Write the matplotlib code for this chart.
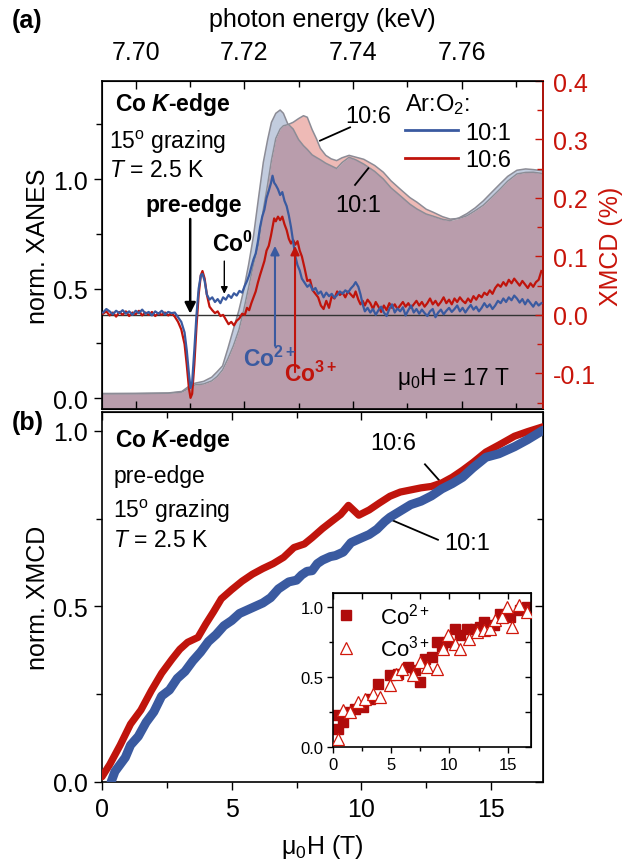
import numpy as np
import matplotlib
matplotlib.use("Agg")
import matplotlib.pyplot as plt
from matplotlib.ticker import MultipleLocator, FormatStrFormatter
from matplotlib.lines import Line2D

plt.rcParams['font.family'] = ['Liberation Sans', 'DejaVu Sans']
plt.rcParams['mathtext.fontset'] = 'custom'
plt.rcParams['mathtext.rm'] = 'Liberation Sans'
plt.rcParams['mathtext.it'] = 'Liberation Sans:italic'
plt.rcParams['mathtext.bf'] = 'Liberation Sans:bold'
try:
    plt.rcParams['mathtext.bfit'] = 'Liberation Sans:italic:bold'
except KeyError:
    pass
plt.rcParams['axes.unicode_minus'] = False

# ---------------- data: panel (a) XANES (left axis) ----------------
xanes_E = [7.6938, 7.7000, 7.7060, 7.7085, 7.7095, 7.7102, 7.7110, 7.7125, 7.7140, 7.7150,
           7.7160, 7.7170, 7.7180, 7.7190, 7.7198, 7.7208, 7.7217, 7.7226, 7.7235, 7.7243,
           7.7250, 7.7258, 7.7266, 7.7272, 7.7280, 7.7290, 7.7300, 7.7309, 7.7316, 7.7325,
           7.7333, 7.7340, 7.7350, 7.7360, 7.7370, 7.7380, 7.7393, 7.7405, 7.7420, 7.7440,
           7.7456, 7.7470, 7.7487, 7.7505, 7.7518, 7.7535, 7.7548, 7.7565, 7.7579, 7.7595,
           7.7610, 7.7625, 7.7640, 7.7655, 7.7671, 7.7685, 7.7702, 7.7718, 7.7732, 7.7750]
xanes_101 = [0.020, 0.021, 0.023, 0.030, 0.048, 0.062, 0.068, 0.076, 0.095, 0.120,
             0.147, 0.228, 0.315, 0.400, 0.483, 0.610, 0.741, 0.910, 1.076, 1.180,
             1.259, 1.300, 1.315, 1.300, 1.252, 1.228, 1.180, 1.152, 1.135, 1.110,
             1.098, 1.088, 1.072, 1.060, 1.048, 1.075, 1.099, 1.088, 1.068, 1.035,
             1.000, 0.960, 0.924, 0.885, 0.863, 0.840, 0.830, 0.816, 0.810, 0.822,
             0.842, 0.868, 0.900, 0.938, 0.978, 1.012, 1.040, 1.046, 1.043, 1.038]
xanes_106 = [0.020, 0.020, 0.022, 0.027, 0.040, 0.054, 0.060, 0.064, 0.078, 0.098,
             0.128, 0.180, 0.239, 0.310, 0.391, 0.505, 0.610, 0.700, 0.860, 0.975,
             1.085, 1.185, 1.228, 1.243, 1.248, 1.259, 1.276, 1.289, 1.282, 1.225,
             1.183, 1.140, 1.108, 1.092, 1.084, 1.097, 1.108, 1.100, 1.090, 1.062,
             1.031, 0.992, 0.954, 0.915, 0.894, 0.862, 0.848, 0.828, 0.817, 0.820,
             0.832, 0.855, 0.880, 0.915, 0.954, 0.990, 1.023, 1.030, 1.031, 1.025]

# ---------------- data: panel (a) XMCD (right axis, %) ----------------
xmcd_101 = [
    (7.6940, 0.004), (7.6946, 0.010), (7.6952, 0.006), (7.6958, 0.001), (7.6964, 0.007),
    (7.6970, 0.003), (7.6976, 0.008), (7.6982, 0.002), (7.6988, 0.006), (7.6994, 0.000),
    (7.7000, 0.007), (7.7006, 0.003), (7.7012, 0.009), (7.7018, 0.002), (7.7024, 0.005),
    (7.7030, -0.001), (7.7036, 0.006), (7.7042, 0.002), (7.7048, 0.007), (7.7054, 0.001),
    (7.7060, 0.005), (7.7066, 0.003), (7.7072, 0.004), (7.7078, -0.004), (7.7084, -0.012),
    (7.7090, -0.030), (7.7094, -0.060), (7.7098, -0.100), (7.7101, -0.125), (7.7104, -0.115),
    (7.7108, -0.060), (7.7112, 0.000), (7.7116, 0.045), (7.7120, 0.068), (7.7123, 0.070),
    (7.7127, 0.058), (7.7131, 0.035), (7.7136, 0.026), (7.7141, 0.030), (7.7146, 0.022),
    (7.7151, 0.027), (7.7156, 0.020), (7.7161, 0.030), (7.7166, 0.026), (7.7171, 0.034),
    (7.7176, 0.029), (7.7181, 0.037), (7.7186, 0.033), (7.7191, 0.041), (7.7196, 0.038),
    (7.7201, 0.050), (7.7205, 0.058), (7.7209, 0.068), (7.7213, 0.082), (7.7217, 0.095),
    (7.7221, 0.105), (7.7225, 0.125), (7.7229, 0.150), (7.7233, 0.168), (7.7237, 0.180),
    (7.7241, 0.200), (7.7245, 0.212), (7.7249, 0.225), (7.7252, 0.238), (7.7255, 0.226),
    (7.7258, 0.222), (7.7262, 0.215), (7.7266, 0.205), (7.7270, 0.210), (7.7274, 0.195),
    (7.7278, 0.186), (7.7282, 0.170), (7.7286, 0.150), (7.7290, 0.125), (7.7294, 0.100),
    (7.7298, 0.085), (7.7302, 0.076), (7.7306, 0.062), (7.7311, 0.055), (7.7316, 0.048),
    (7.7321, 0.052), (7.7326, 0.042), (7.7331, 0.046), (7.7336, 0.036), (7.7341, 0.040),
    (7.7346, 0.030), (7.7351, 0.038), (7.7356, 0.032), (7.7361, 0.036), (7.7366, 0.029),
    (7.7371, 0.034), (7.7376, 0.040), (7.7381, 0.036), (7.7386, 0.042), (7.7391, 0.038),
    (7.7396, 0.045), (7.7401, 0.050), (7.7405, 0.056), (7.7410, 0.048), (7.7414, 0.035),
    (7.7418, 0.018), (7.7422, 0.006), (7.7427, 0.012), (7.7432, 0.004), (7.7437, 0.010),
    (7.7442, 0.000), (7.7447, 0.008), (7.7452, 0.014), (7.7457, 0.004), (7.7462, -0.002),
    (7.7467, 0.010), (7.7472, 0.018), (7.7477, 0.004), (7.7482, 0.011), (7.7487, 0.006),
    (7.7492, 0.013), (7.7497, -0.001), (7.7502, 0.008), (7.7507, 0.016), (7.7512, 0.004),
    (7.7517, 0.010), (7.7522, 0.002), (7.7527, 0.009), (7.7532, 0.003), (7.7537, -0.002),
    (7.7542, 0.006), (7.7547, 0.010), (7.7552, -0.004), (7.7557, 0.004), (7.7562, 0.009),
    (7.7567, 0.001), (7.7572, 0.007), (7.7577, 0.012), (7.7582, 0.005), (7.7587, 0.010),
    (7.7592, 0.016), (7.7597, 0.006), (7.7602, 0.012), (7.7607, 0.004), (7.7612, 0.011),
    (7.7617, 0.017), (7.7622, 0.009), (7.7627, 0.014), (7.7632, 0.006), (7.7637, 0.012),
    (7.7642, 0.020), (7.7647, 0.013), (7.7652, 0.018), (7.7657, 0.010), (7.7662, 0.016),
    (7.7667, 0.024), (7.7672, 0.020), (7.7677, 0.028), (7.7682, 0.022), (7.7687, 0.030),
    (7.7692, 0.025), (7.7697, 0.033), (7.7702, 0.028), (7.7707, 0.021), (7.7712, 0.027),
    (7.7717, 0.018), (7.7722, 0.026), (7.7727, 0.020), (7.7732, 0.014), (7.7737, 0.022),
    (7.7742, 0.016), (7.7747, 0.020)]

xmcd_106 = [
    (7.6940, 0.002), (7.6946, 0.006), (7.6952, -0.001), (7.6958, 0.004), (7.6964, -0.003),
    (7.6970, 0.005), (7.6976, 0.000), (7.6982, 0.006), (7.6988, -0.002), (7.6994, 0.004),
    (7.7000, 0.001), (7.7006, 0.007), (7.7012, -0.001), (7.7018, 0.004), (7.7024, 0.000),
    (7.7030, 0.005), (7.7036, -0.002), (7.7042, 0.003), (7.7048, 0.000), (7.7054, 0.004),
    (7.7060, -0.001), (7.7066, 0.003), (7.7072, -0.003), (7.7078, -0.012), (7.7084, -0.025),
    (7.7090, -0.050), (7.7094, -0.085), (7.7098, -0.125), (7.7101, -0.142), (7.7104, -0.135),
    (7.7108, -0.085), (7.7112, -0.020), (7.7116, 0.035), (7.7120, 0.068), (7.7123, 0.075),
    (7.7127, 0.062), (7.7131, 0.035), (7.7136, 0.014), (7.7141, 0.008), (7.7146, 0.003),
    (7.7151, 0.006), (7.7156, -0.002), (7.7161, 0.000), (7.7166, -0.008), (7.7171, -0.016),
    (7.7176, -0.012), (7.7181, -0.018), (7.7186, -0.010), (7.7191, -0.006), (7.7196, 0.002),
    (7.7201, 0.000), (7.7205, 0.012), (7.7209, 0.008), (7.7213, 0.020), (7.7217, 0.030),
    (7.7221, 0.040), (7.7225, 0.055), (7.7229, 0.068), (7.7233, 0.080), (7.7237, 0.092),
    (7.7241, 0.110), (7.7245, 0.118), (7.7249, 0.135), (7.7252, 0.150), (7.7255, 0.165),
    (7.7258, 0.160), (7.7262, 0.168), (7.7266, 0.162), (7.7270, 0.168), (7.7274, 0.155),
    (7.7278, 0.145), (7.7282, 0.130), (7.7286, 0.122), (7.7290, 0.128), (7.7294, 0.120),
    (7.7298, 0.126), (7.7302, 0.110), (7.7306, 0.100), (7.7311, 0.080), (7.7316, 0.058),
    (7.7321, 0.060), (7.7326, 0.042), (7.7331, 0.036), (7.7336, 0.030), (7.7341, 0.016),
    (7.7346, 0.010), (7.7351, 0.024), (7.7356, 0.012), (7.7361, 0.032), (7.7366, 0.028),
    (7.7371, 0.040), (7.7376, 0.034), (7.7381, 0.038), (7.7386, 0.030), (7.7391, 0.040),
    (7.7396, 0.035), (7.7401, 0.030), (7.7405, 0.040), (7.7410, 0.026), (7.7414, 0.018),
    (7.7418, 0.024), (7.7422, 0.016), (7.7427, 0.026), (7.7432, 0.020), (7.7437, 0.010),
    (7.7442, 0.022), (7.7447, 0.014), (7.7452, 0.005), (7.7457, 0.016), (7.7462, 0.008),
    (7.7467, 0.020), (7.7472, 0.012), (7.7477, 0.018), (7.7482, 0.010), (7.7487, 0.016),
    (7.7492, 0.022), (7.7497, 0.014), (7.7502, 0.020), (7.7507, 0.012), (7.7512, 0.018),
    (7.7517, 0.024), (7.7522, 0.016), (7.7527, 0.022), (7.7532, 0.014), (7.7537, 0.020),
    (7.7542, 0.028), (7.7547, 0.018), (7.7552, 0.024), (7.7557, 0.016), (7.7562, 0.022),
    (7.7567, 0.030), (7.7572, 0.020), (7.7577, 0.026), (7.7582, 0.018), (7.7587, 0.028),
    (7.7592, 0.022), (7.7597, 0.030), (7.7602, 0.024), (7.7607, 0.020), (7.7612, 0.028),
    (7.7617, 0.022), (7.7622, 0.032), (7.7627, 0.026), (7.7632, 0.034), (7.7637, 0.030),
    (7.7642, 0.038), (7.7647, 0.034), (7.7652, 0.042), (7.7657, 0.036), (7.7662, 0.046),
    (7.7667, 0.052), (7.7672, 0.048), (7.7677, 0.056), (7.7682, 0.050), (7.7687, 0.060),
    (7.7692, 0.054), (7.7697, 0.062), (7.7702, 0.056), (7.7707, 0.050), (7.7712, 0.058),
    (7.7717, 0.052), (7.7722, 0.046), (7.7727, 0.054), (7.7732, 0.048), (7.7737, 0.056),
    (7.7742, 0.060), (7.7747, 0.075)]

# ---------------- data: panel (b) field dependence ----------------
field_106 = [(0.0, 0.015), (0.3, 0.05), (0.7, 0.105), (1.1, 0.165), (1.5, 0.205), (1.9, 0.26),
             (2.3, 0.31), (2.7, 0.35), (3.0, 0.378), (3.3, 0.398), (3.7, 0.412), (4.0, 0.45),
             (4.3, 0.485), (4.6, 0.522), (5.0, 0.548), (5.4, 0.572), (5.8, 0.592), (6.2, 0.608),
             (6.6, 0.622), (7.0, 0.640), (7.4, 0.668), (7.8, 0.678), (8.1, 0.696), (8.5, 0.722),
             (8.9, 0.745), (9.2, 0.762), (9.5, 0.788), (9.9, 0.760), (10.3, 0.775), (10.7, 0.795),
             (11.1, 0.814), (11.5, 0.826), (11.9, 0.832), (12.3, 0.838), (12.7, 0.842), (13.1, 0.852),
             (13.5, 0.868), (13.9, 0.888), (14.3, 0.910), (14.8, 0.940), (15.3, 0.960), (15.9, 0.985),
             (16.4, 0.998), (17.0, 1.012)]
field_101 = [(0.35, 0.0), (0.5, 0.03), (0.7, 0.05), (0.9, 0.07), (1.1, 0.105), (1.4, 0.13),
             (1.7, 0.17), (2.0, 0.20), (2.3, 0.245), (2.6, 0.262), (2.9, 0.295), (3.2, 0.315),
             (3.5, 0.345), (3.8, 0.37), (4.1, 0.40), (4.4, 0.42), (4.7, 0.445), (5.0, 0.46),
             (5.3, 0.48), (5.6, 0.49), (5.9, 0.50), (6.2, 0.51), (6.5, 0.525), (6.8, 0.55),
             (7.0, 0.56), (7.2, 0.57), (7.5, 0.575), (7.7, 0.59), (7.9, 0.60), (8.1, 0.602),
             (8.3, 0.622), (8.5, 0.632), (8.8, 0.642), (9.0, 0.645), (9.3, 0.655), (9.6, 0.682),
             (9.9, 0.692), (10.3, 0.705), (10.6, 0.72), (10.9, 0.742), (11.1, 0.754), (11.5, 0.772),
             (11.9, 0.79), (12.3, 0.80), (12.7, 0.815), (13.1, 0.835), (13.5, 0.850), (13.9, 0.868),
             (14.3, 0.895), (14.8, 0.925), (15.3, 0.935), (15.9, 0.955), (16.4, 0.975), (17.0, 1.002)]

# inset: normalized XMCD at Co2+ and Co3+ energies
co2_pts = [(0.14, 0.226), (0.43, 0.131), (0.86, 0.179), (1.4, 0.25), (1.87, 0.274), (2.59, 0.286),
           (3.16, 0.345), (3.88, 0.452), (4.89, 0.512), (5.6, 0.524), (6.47, 0.571), (7.0, 0.55),
           (7.47, 0.464), (7.9, 0.631), (8.48, 0.643), (8.9, 0.75), (9.4, 0.72), (9.77, 0.75),
           (10.49, 0.845), (10.92, 0.798), (11.49, 0.845), (12.21, 0.845), (12.6, 0.86),
           (12.93, 0.893), (13.79, 0.869), (14.37, 0.952), (15.23, 0.929), (16.09, 0.976), (16.67, 1.0)]
co3_pts = [(0.43, 0.06), (0.86, 0.262), (1.44, 0.25), (2.16, 0.321), (2.73, 0.345), (3.45, 0.381),
           (4.02, 0.357), (4.89, 0.44), (5.4, 0.52), (5.89, 0.56), (6.9, 0.512), (7.47, 0.607),
           (8.05, 0.571), (8.9, 0.56), (9.48, 0.702), (9.91, 0.798), (10.49, 0.738), (10.92, 0.702),
           (11.64, 0.774), (12.36, 0.821), (12.93, 0.833), (13.51, 0.845), (13.94, 0.905),
           (14.51, 0.929), (14.94, 1.0), (15.37, 0.857), (15.95, 1.012), (16.67, 0.964)]

# ---------------- styles ----------------
BLUE = '#3a5aa0'
RED = '#c0140c'
AXRED = '#c8140a'
MAUVE = '#b99dac'
LBLUE = '#c2ccde'
PINK = '#eebab6'
OUTLINE = '#8c8c96'
FS = 18
TFS = 16.5

fig = plt.figure(figsize=(6.26, 8.62), dpi=100)
W, H = 626.0, 862.0

def rect(l, t, r, b):
    return [l / W, 1 - b / H, (r - l) / W, (b - t) / H]

# ================= panel (a) =================
ax = fig.add_axes(rect(102, 82, 543, 410))
E = np.array(xanes_E)
xb = np.array(xanes_101)
xr = np.array(xanes_106)
floor = -0.2
ax.fill_between(E, floor, np.minimum(xb, xr), color=MAUVE, lw=0, zorder=1)
ax.fill_between(E, xr, xb, where=xb >= xr, interpolate=True, color=LBLUE, lw=0, zorder=1)
ax.fill_between(E, xb, xr, where=xr >= xb, interpolate=True, color=PINK, lw=0, zorder=1)
ax.plot(E, xb, color=OUTLINE, lw=1.1, zorder=2)
ax.plot(E, xr, color=OUTLINE, lw=1.1, zorder=2)
ax.set_xlim(7.6938, 7.7750)
ax.set_ylim(-0.0502, 1.4475)
ax.xaxis.set_major_locator(MultipleLocator(0.02))
ax.xaxis.set_minor_locator(MultipleLocator(0.01))
ax.xaxis.set_major_formatter(FormatStrFormatter('%.2f'))
ax.yaxis.set_major_locator(MultipleLocator(0.5))
ax.yaxis.set_minor_locator(MultipleLocator(0.25))
ax.yaxis.set_major_formatter(FormatStrFormatter('%.1f'))
ax.tick_params(axis='x', which='both', direction='in', top=True, bottom=True,
               labeltop=True, labelbottom=False, labelsize=FS, pad=12)
ax.tick_params(axis='y', which='both', direction='out', left=True, right=False, labelsize=FS, pad=4)
ax.tick_params(which='major', length=6, width=1)
ax.tick_params(which='minor', length=4, width=1)
ax.xaxis.set_label_position('top')
ax.set_xlabel('photon energy (keV)', fontsize=FS, labelpad=10)
ax.set_ylabel('norm. XANES', fontsize=FS, labelpad=2)
for s in ax.spines.values():
    s.set_linewidth(1.2)

ax2 = ax.twinx()
ax2.set_ylim(-0.161, 0.4)
ax2.axhline(0, color='#333333', lw=1.0, zorder=1)
eb, vb = zip(*xmcd_101)
er, vr = zip(*xmcd_106)
ax2.plot(er, vr, color=RED, lw=1.6, zorder=3)
ax2.plot(eb, vb, color=BLUE, lw=1.6, zorder=3)
ax2.yaxis.set_major_locator(MultipleLocator(0.1))
ax2.yaxis.set_minor_locator(MultipleLocator(0.05))
ax2.yaxis.set_major_formatter(FormatStrFormatter('%.1f'))
ax2.tick_params(axis='y', which='both', direction='in', colors=AXRED, labelsize=FS, pad=7)
ax2.tick_params(which='major', length=6, width=1)
ax2.tick_params(which='minor', length=4, width=1)
ax2.spines['right'].set_color(AXRED)
ax2.spines['right'].set_linewidth(1.2)
ax2.set_ylabel('XMCD (%)', color=AXRED, fontsize=FS, labelpad=2)

ax2.legend(handles=[Line2D([], [], color=BLUE, lw=2), Line2D([], [], color=RED, lw=2)],
           labels=['10:1', '10:6'], title='Ar:O$_2$:', loc='upper left',
           bbox_to_anchor=(0.687, 0.968), frameon=False, fontsize=17, title_fontsize=17,
           handlelength=2.25, handletextpad=0.3, labelspacing=0.22, borderpad=0,
           borderaxespad=0, alignment='left')

# text annotations (a)
ax.text(0.0295, 0.9116, r'Co $\mathbfit{K}$-edge', transform=ax.transAxes, fontsize=TFS,
        fontweight='bold', ha='left', va='baseline')
ax.text(0.0159, 0.795, r'15$^\mathrm{o}$ grazing', transform=ax.transAxes, fontsize=TFS,
        ha='left', va='baseline')
ax.text(0.0159, 0.709, r'$T$ = 2.5 K', transform=ax.transAxes, fontsize=TFS,
        ha='left', va='baseline')
ax.text(0.925, 0.076, r'$\mathrm{\mu}_0$H = 17 T', transform=ax.transAxes, fontsize=TFS,
        ha='right', va='baseline')

ax2.text(7.71061, 0.178, 'pre-edge', fontsize=TFS, fontweight='bold', ha='center', va='baseline')
ax2.annotate('', xy=(7.71004, 0.002), xytext=(7.71004, 0.164),
             arrowprops=dict(arrowstyle='-|>', color='black', lw=1.8, mutation_scale=16,
                             shrinkA=0, shrinkB=0))
ax2.text(7.7140, 0.109, r'Co$^{\mathbf{0}}$', fontsize=TFS, fontweight='bold', ha='left', va='baseline')
ax2.annotate('', xy=(7.71632, 0.036), xytext=(7.71632, 0.092),
             arrowprops=dict(arrowstyle='-|>', color='black', lw=1.0, mutation_scale=10,
                             shrinkA=0, shrinkB=0))
ax2.annotate('', xy=(7.72565, 0.118), xytext=(7.72565, -0.053),
             arrowprops=dict(arrowstyle='-|>', color=BLUE, lw=1.5, mutation_scale=13,
                             shrinkA=0, shrinkB=0))
ax2.annotate('', xy=(7.72934, 0.118), xytext=(7.72934, -0.098),
             arrowprops=dict(arrowstyle='-|>', color=RED, lw=1.5, mutation_scale=13,
                             shrinkA=0, shrinkB=0))
ax2.text(7.71976, -0.0872, r'Co$^{\mathbf{2+}}$', color=BLUE, fontsize=TFS, fontweight='bold',
         ha='left', va='baseline')
ax2.text(7.72731, -0.1128, r'Co$^{\mathbf{3+}}$', color=RED, fontsize=TFS, fontweight='bold',
         ha='left', va='baseline')

ax.text(7.73854, 1.259, '10:6', fontsize=17, ha='left', va='baseline', zorder=5)
ax.plot([7.73947, 7.73394], [1.236, 1.175], color='black', lw=1.3, zorder=5)
ax.text(7.73668, 0.855, '10:1', fontsize=17, ha='left', va='baseline', zorder=5)
ax.plot([7.74039, 7.74284], [0.973, 1.049], color='black', lw=1.3, zorder=5)

# ================= panel (b) =================
bx = fig.add_axes(rect(102, 413, 543, 783))
h6, m6 = zip(*field_106)
h1, m1 = zip(*field_101)
bx.plot(h6, m6, color=RED, lw=5.2, solid_joinstyle='round', solid_capstyle='round', zorder=3)
bx.plot(h1, m1, color=BLUE, lw=6.5, solid_joinstyle='round', solid_capstyle='round', zorder=4)
bx.set_xlim(0, 17)
bx.set_ylim(0, 1.054)
bx.xaxis.set_major_locator(MultipleLocator(5))
bx.xaxis.set_minor_locator(MultipleLocator(2.5))
bx.xaxis.set_major_formatter(FormatStrFormatter('%d'))
bx.yaxis.set_major_locator(MultipleLocator(0.5))
bx.yaxis.set_minor_locator(MultipleLocator(0.25))
bx.yaxis.set_major_formatter(FormatStrFormatter('%.1f'))
bx.tick_params(axis='both', which='both', labelsize=FS)
bx.tick_params(axis='x', which='both', direction='out', pad=5)
bx.tick_params(axis='y', which='both', direction='out', pad=4)
bx.tick_params(which='major', length=6, width=1)
bx.tick_params(which='minor', length=4, width=1)
sa = bx.secondary_xaxis('top')
sa.xaxis.set_major_locator(MultipleLocator(5))
sa.xaxis.set_minor_locator(MultipleLocator(2.5))
sa.tick_params(which='both', direction='in', labeltop=False, length=6, width=1)
sa.tick_params(which='minor', length=4)
sy = bx.secondary_yaxis('right')
sy.yaxis.set_major_locator(MultipleLocator(0.5))
sy.yaxis.set_minor_locator(MultipleLocator(0.25))
sy.tick_params(which='both', direction='in', labelright=False, length=6, width=1)
sy.tick_params(which='minor', length=4)
bx.set_xlabel(r'$\mathrm{\mu}_0$H (T)', fontsize=FS, labelpad=8)
bx.set_ylabel('norm. XMCD', fontsize=FS, labelpad=2)
for s in bx.spines.values():
    s.set_linewidth(1.2)

bx.text(0.0295, 0.909, r'Co $\mathbfit{K}$-edge', transform=bx.transAxes, fontsize=TFS,
        fontweight='bold', ha='left', va='baseline')
bx.text(0.0256, 0.810, 'pre-edge', transform=bx.transAxes, fontsize=TFS, ha='left', va='baseline')
bx.text(0.0256, 0.715, r'15$^\mathrm{o}$ grazing', transform=bx.transAxes, fontsize=TFS,
        ha='left', va='baseline')
bx.text(0.0256, 0.639, r'$T$ = 2.5 K', transform=bx.transAxes, fontsize=TFS,
        ha='left', va='baseline')
bx.text(10.33, 0.949, '10:6', fontsize=17, ha='left', va='baseline')
bx.plot([12.45, 13.05], [0.905, 0.855], color='black', lw=1.3)
bx.text(13.2, 0.665, '10:1', fontsize=17, ha='left', va='baseline')
bx.plot([12.95, 11.05], [0.69, 0.75], color='black', lw=1.3)

# inset
ix = fig.add_axes(rect(333, 594, 531, 748))
sxp, syp = zip(*co2_pts)
txp, typ = zip(*co3_pts)
ix.plot(txp, typ, linestyle='none', marker='^', markersize=9, markerfacecolor='white',
        markeredgecolor='#d0180c', markeredgewidth=0.9, zorder=3, label='Co$^{3+}$')
ix.plot(sxp, syp, linestyle='none', marker='s', markersize=7.5, color='#b00c0c', zorder=2,
        label='Co$^{2+}$')
ix.set_xlim(0, 17)
ix.set_ylim(0, 1.10)
ix.xaxis.set_major_locator(MultipleLocator(5))
ix.xaxis.set_minor_locator(MultipleLocator(2.5))
ix.xaxis.set_major_formatter(FormatStrFormatter('%d'))
ix.yaxis.set_major_locator(MultipleLocator(0.5))
ix.yaxis.set_minor_locator(MultipleLocator(0.25))
ix.yaxis.set_major_formatter(FormatStrFormatter('%.1f'))
ix.tick_params(which='both', direction='out', labelsize=12, width=1, pad=3)
ix.tick_params(which='major', length=4)
ix.tick_params(which='minor', length=3)
st = ix.secondary_xaxis('top')
st.xaxis.set_major_locator(MultipleLocator(5))
st.xaxis.set_minor_locator(MultipleLocator(2.5))
st.tick_params(which='both', direction='in', labeltop=False, length=4, width=1)
sr = ix.secondary_yaxis('right')
sr.yaxis.set_major_locator(MultipleLocator(0.25))
sr.tick_params(which='both', direction='in', labelright=False, length=4, width=1)
for s in ix.spines.values():
    s.set_linewidth(1.2)
h, l = ix.get_legend_handles_labels()
ix.legend(h[::-1], l[::-1], loc='upper left', bbox_to_anchor=(0.0, 0.955), frameon=False,
          fontsize=16, handlelength=1.0, handletextpad=1.0, borderpad=0.1, borderaxespad=0,
          labelspacing=0.3)

fig.text(12 / W, 1 - 21 / H, '(a)', fontsize=FS, fontweight='bold', ha='left', va='center')
fig.text(12 / W, 1 - 423 / H, '(b)', fontsize=FS, fontweight='bold', ha='left', va='center')

fig.savefig('out.png', dpi=100)
